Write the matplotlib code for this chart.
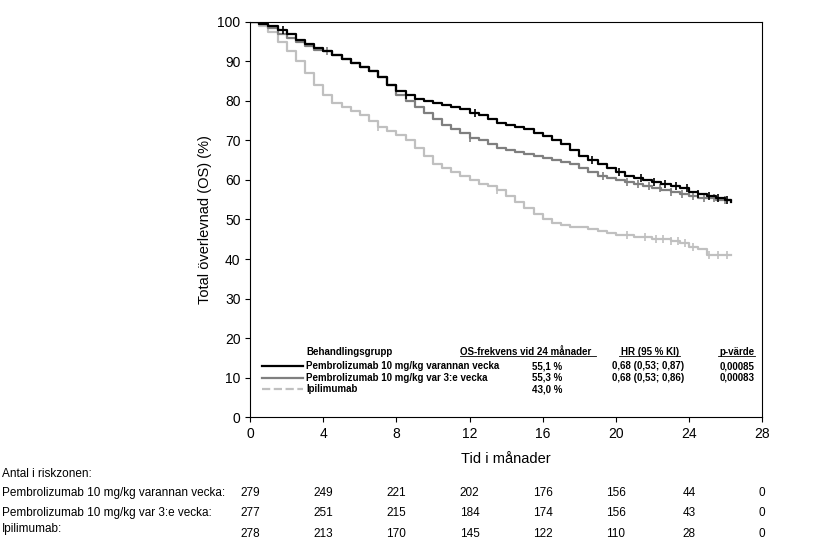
import matplotlib
matplotlib.use('Agg')
import matplotlib.pyplot as plt
import numpy as np

plt.rcParams['font.family'] = ['Liberation Sans', 'DejaVu Sans']

# Kaplan-Meier curves (months, %), half-month grid
t_grid = [i * 0.5 for i in range(53)] + [26.3]
s_q2w = [100, 99.5, 99, 98, 97, 95.5, 94.5, 93.5, 92.5, 91.5, 90.5, 89.5, 88.5, 87.5, 86, 84, 82.5, 81.5, 80.5, 80, 79.5, 79, 78.5, 78,
         77, 76.5, 75.5, 74.5, 74, 73.5, 73, 72, 71, 70, 69, 67.5, 66, 65, 64, 63, 62, 61, 60.5, 60, 59.5, 59, 58.5, 58, 57, 56.5,
         56, 55.5, 55, 54.5, 54, 54, 54, 54][:54]
s_q3w = [100, 99.5, 98.5, 97, 96, 95, 94, 93, 92.5, 91.5, 90.5, 89.5, 88.5, 87.5, 86, 84, 81.5, 80, 78.5, 77, 75.5, 74, 73, 72,
         70.5, 70, 69, 68, 67.5, 67, 66.5, 66, 65.5, 65, 64.5, 64, 63, 62, 61, 60.5, 60, 59.5, 59, 58.5, 58, 57.5, 57, 56.5, 56,
         55.5, 55.5, 55, 55, 55][:54]
s_ipi = [100, 99, 97.5, 95, 92.5, 90, 87, 84, 81.5, 79.5, 78.5, 77.5, 76.5, 75, 73.5, 72.5, 71.5, 70, 68, 66, 64, 63, 62, 61,
         60, 59, 58.5, 57.5, 56, 54.5, 53, 51.5, 50, 49, 48.5, 48, 48, 47.5, 47, 46.5, 46, 46, 45.5, 45.5, 45, 45, 44.5, 44, 43,
         42.5, 41, 41, 41, 41][:54]

# censor marks (months)
c_q2w = [1.8, 8.5, 12.3, 18.7, 20.2, 21.4, 22.1, 22.7, 23.3, 23.9, 24.5, 25.1, 25.6, 26.1]
c_q3w = [4.2, 12.0, 19.3, 20.6, 21.2, 21.8, 22.4, 23.0, 23.6, 24.2, 24.8, 25.4, 26.0]
c_ipi = [7.0, 13.5, 20.6, 21.6, 22.2, 22.6, 23.0, 23.4, 23.8, 24.2, 25.1, 25.6, 26.1]

risk_times = [0, 4, 8, 12, 16, 20, 24, 28]
risk_q2w = [279, 249, 221, 202, 176, 156, 44, 0]
risk_q3w = [277, 251, 215, 184, 174, 156, 43, 0]
risk_ipi = [278, 213, 170, 145, 122, 110, 28, 0]

col_q2w = 'black'
col_q3w = '#7f7f7f'
col_ipi = '#c0c0c0'

fig = plt.figure(figsize=(8.15, 5.46), dpi=100)
ax = fig.add_axes([0.307, 0.236, 0.628, 0.724])


def surv_at(t, ts, ss):
    i = np.searchsorted(ts, t, side='right') - 1
    return ss[i]


for ss, cs, col in [(s_ipi, c_ipi, col_ipi), (s_q3w, c_q3w, col_q3w), (s_q2w, c_q2w, col_q2w)]:
    ax.plot(t_grid, ss, drawstyle='steps-post', color=col, lw=1.6)
    ax.plot(cs, [surv_at(c, t_grid, ss) for c in cs], '|', color=col, ms=6, mew=1.2)

ax.set_xlim(0, 28)
ax.set_ylim(0, 100)
ax.set_xticks(range(0, 29, 4))
ax.set_yticks(range(0, 101, 10))
ax.tick_params(labelsize=10, direction='out')
ax.set_xlabel('Tid i månader', fontsize=10.5, labelpad=8)
ax.set_ylabel('Total överlevnad (OS) (%)', fontsize=10.5)

# legend table
fs = 7
ax.text(3.06, 16.5, 'Behandlingsgrupp', fontsize=fs, weight='bold', va='center')
ax.text(11.5, 16.5, 'OS-frekvens vid 24 månader', fontsize=fs, weight='bold', va='center')
ax.text(21.9, 16.5, 'HR (95 % KI)', fontsize=fs, weight='bold', va='center', ha='center')
ax.text(27.6, 16.5, 'p-värde', fontsize=fs, weight='bold', va='center', ha='right')
ax.plot([11.5, 18.9], [15.4, 15.4], color='black', lw=0.6)
ax.plot([20.2, 23.5], [15.4, 15.4], color='black', lw=0.6)
ax.plot([25.6, 27.6], [15.4, 15.4], color='black', lw=0.6)
rows = [
    (col_q2w, '-', 'Pembrolizumab 10 mg/kg varannan vecka', '55,1 %', '0,68 (0,53; 0,87)', '0,00085'),
    (col_q3w, '-', 'Pembrolizumab 10 mg/kg var 3:e vecka', '55,3 %', '0,68 (0,53; 0,86)', '0,00083'),
    (col_ipi, '--', 'Ipilimumab', '43,0 %', '', ''),
]
for i, (col, ls, name, os24, hr, p) in enumerate(rows):
    y = 12.9 - 2.9 * i
    ax.plot([0.65, 2.9], [y, y], color=col, ls=ls, lw=1.6)
    ax.text(3.06, y, name, fontsize=fs, weight='bold', va='center')
    ax.text(15.4, y, os24, fontsize=fs, weight='bold', va='center')
    ax.text(19.8, y, hr, fontsize=fs, weight='bold', va='center')
    ax.text(27.6, y, p, fontsize=fs, weight='bold', va='center', ha='right')

# number at risk
fig.text(0.002, 1 - 474 / 546, 'Antal i riskzonen:', fontsize=8.5, va='center')
for ylab, ynum, name, vals in [(493, 493, 'Pembrolizumab 10 mg/kg varannan vecka:', risk_q2w),
                               (513, 513, 'Pembrolizumab 10 mg/kg var 3:e vecka:', risk_q3w),
                               (529, 534, 'Ipilimumab:', risk_ipi)]:
    fig.text(0.002, 1 - ylab / 546, name, fontsize=8.5, va='center')
    for t, v in zip(risk_times, vals):
        xf = 0.307 + 0.628 * t / 28
        fig.text(xf, 1 - ynum / 546, str(v), fontsize=8.5, va='center', ha='center')

fig.savefig('out.png', dpi=100)
